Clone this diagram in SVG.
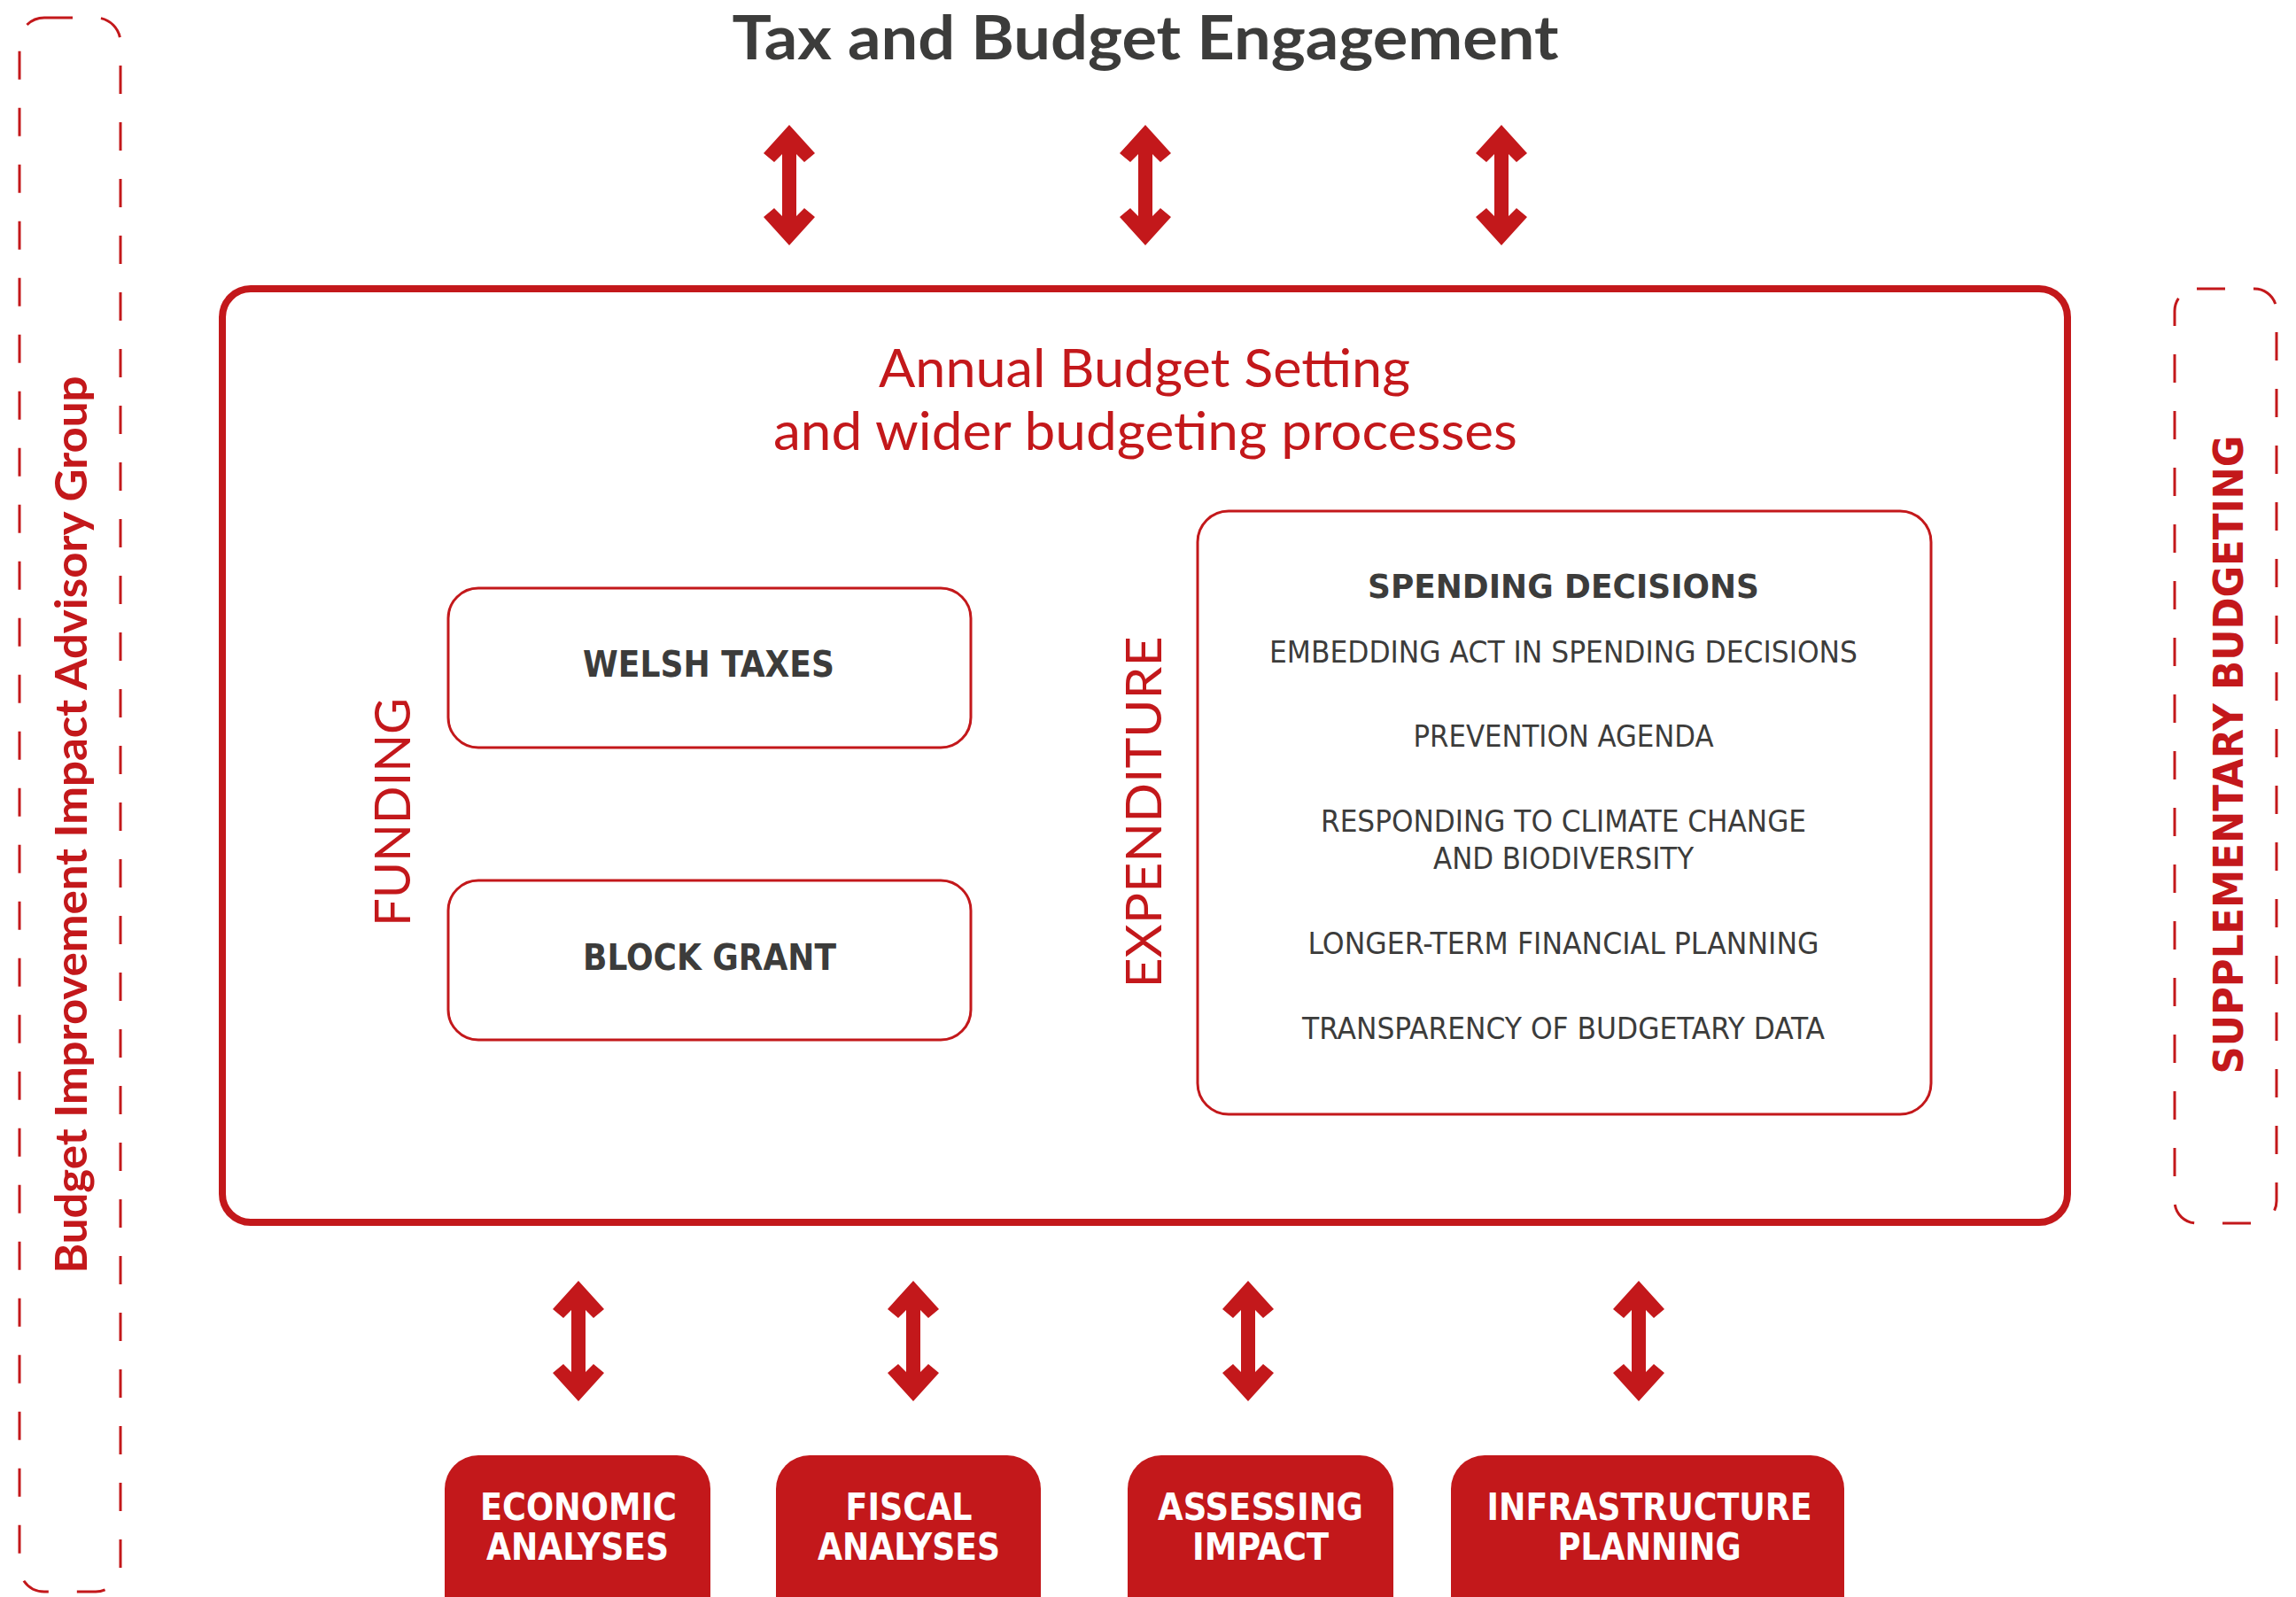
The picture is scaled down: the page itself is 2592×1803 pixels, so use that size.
<svg xmlns="http://www.w3.org/2000/svg" xmlns:xlink="http://www.w3.org/1999/xlink" width="2592" height="1803" viewBox="0 0 2592 1803">
<style>
.red{fill:#c3181b}
.dark{fill:#3c3c3b}
.geo{font-family:Lato,"Open Sans","Liberation Sans",sans-serif}
.cond{font-family:"Liberation Sans Narrow","DejaVu Sans Condensed","Liberation Sans",sans-serif;font-stretch:condensed}
.box{fill:#fff;stroke:#c3181b;stroke-width:3}
.dash{fill:none;stroke:#c3181b;stroke-width:3;stroke-dasharray:32 32}
.btn{fill:#c3181b}
.btxt{fill:#fff;font-size:42px;font-weight:bold;text-anchor:middle}
.item{font-size:33px;text-anchor:middle}
</style>
<defs>
<path id="dbl" d="M0,0 L29,32 L17,42 L8,33 L8,103 L17,94 L29,104 L0,136 L-29,104 L-17,94 L-8,103 L-8,33 L-17,42 L-29,32 Z" fill="#c3181b"/>
</defs>
<rect width="2592" height="1803" fill="#fff"/>

<g id="title">
<text x="1293" y="67" class="geo dark" font-size="68" font-weight="bold" text-anchor="middle" textLength="933" lengthAdjust="spacingAndGlyphs">Tax and Budget Engagement</text>
</g>

<g id="advisory-group">
<rect x="22" y="20" width="114" height="1777" rx="28" class="dash"/>
<text transform="translate(98,931) rotate(-90)" class="geo red" font-size="50" font-weight="bold" text-anchor="middle" textLength="1013" lengthAdjust="spacingAndGlyphs">Budget Improvement Impact Advisory Group</text>
</g>

<g id="supplementary-budgeting">
<rect x="2455" y="326" width="115" height="1055" rx="25" class="dash"/>
<text transform="translate(2532,852) rotate(-90)" class="cond red" font-size="46" font-weight="bold" text-anchor="middle" textLength="721" lengthAdjust="spacingAndGlyphs">SUPPLEMENTARY BUDGETING</text>
</g>

<g id="annual-budget">
<rect x="251" y="326" width="2083" height="1054" rx="32" fill="none" stroke="#c3181b" stroke-width="8"/>
<text x="1292" y="437" class="geo red" font-size="60" text-anchor="middle" textLength="600" lengthAdjust="spacingAndGlyphs">Annual Budget Setting</text>
<text x="1293" y="508" class="geo red" font-size="60" text-anchor="middle" textLength="840" lengthAdjust="spacingAndGlyphs">and wider budgeting processes</text>
</g>

<g id="funding-label">
<text transform="translate(463,917) rotate(-90)" class="geo red" font-size="57" font-weight="normal" text-anchor="middle" textLength="258" lengthAdjust="spacingAndGlyphs">FUNDING</text>
</g>

<g id="expenditure-label">
<text transform="translate(1311,917) rotate(-90)" class="geo red" font-size="57" font-weight="normal" text-anchor="middle" textLength="397" lengthAdjust="spacingAndGlyphs">EXPENDITURE</text>
</g>

<g id="welsh-taxes">
<rect x="506" y="664" width="590" height="180" rx="34" class="box"/>
<text x="800" y="764" class="cond dark" font-size="41" font-weight="bold" text-anchor="middle" textLength="284" lengthAdjust="spacingAndGlyphs">WELSH TAXES</text>
</g>

<g id="block-grant">
<rect x="506" y="994" width="590" height="180" rx="34" class="box"/>
<text x="801" y="1095" class="cond dark" font-size="41" font-weight="bold" text-anchor="middle" textLength="286" lengthAdjust="spacingAndGlyphs">BLOCK GRANT</text>
</g>

<g id="spending-decisions">
<rect x="1352" y="577" width="828" height="681" rx="35" class="box"/>
<text x="1765" y="675" class="cond dark" font-size="38" font-weight="bold" text-anchor="middle" textLength="442" lengthAdjust="spacingAndGlyphs">SPENDING DECISIONS</text>
<text x="1765" y="748" class="cond dark item" textLength="664" lengthAdjust="spacingAndGlyphs">EMBEDDING ACT IN SPENDING DECISIONS</text>
<text x="1765" y="843" class="cond dark item" textLength="339" lengthAdjust="spacingAndGlyphs">PREVENTION AGENDA</text>
<text x="1765" y="939" class="cond dark item" textLength="548" lengthAdjust="spacingAndGlyphs">RESPONDING TO CLIMATE CHANGE</text>
<text x="1765" y="981" class="cond dark item" textLength="294" lengthAdjust="spacingAndGlyphs">AND BIODIVERSITY</text>
<text x="1765" y="1077" class="cond dark item" textLength="577" lengthAdjust="spacingAndGlyphs">LONGER-TERM FINANCIAL PLANNING</text>
<text x="1765" y="1173" class="cond dark item" textLength="590" lengthAdjust="spacingAndGlyphs">TRANSPARENCY OF BUDGETARY DATA</text>
</g>

<g id="economic-analyses">
<rect x="502" y="1643" width="300" height="200" rx="38" class="btn"/>
<text x="653" y="1716" class="cond btxt" textLength="222" lengthAdjust="spacingAndGlyphs">ECONOMIC</text>
<text x="652" y="1761" class="cond btxt" textLength="206" lengthAdjust="spacingAndGlyphs">ANALYSES</text>
</g>

<g id="fiscal-analyses">
<rect x="876" y="1643" width="299" height="200" rx="38" class="btn"/>
<text x="1026" y="1716" class="cond btxt" textLength="143" lengthAdjust="spacingAndGlyphs">FISCAL</text>
<text x="1026" y="1761" class="cond btxt" textLength="206" lengthAdjust="spacingAndGlyphs">ANALYSES</text>
</g>

<g id="assessing-impact">
<rect x="1273" y="1643" width="300" height="200" rx="38" class="btn"/>
<text x="1423" y="1716" class="cond btxt" textLength="232" lengthAdjust="spacingAndGlyphs">ASSESSING</text>
<text x="1423" y="1761" class="cond btxt" textLength="154" lengthAdjust="spacingAndGlyphs">IMPACT</text>
</g>

<g id="infrastructure-planning">
<rect x="1638" y="1643" width="444" height="200" rx="38" class="btn"/>
<text x="1862" y="1716" class="cond btxt" textLength="367" lengthAdjust="spacingAndGlyphs">INFRASTRUCTURE</text>
<text x="1862" y="1761" class="cond btxt" textLength="207" lengthAdjust="spacingAndGlyphs">PLANNING</text>
</g>

<g id="connectors">
<use xlink:href="#dbl" href="#dbl" x="891" y="141"/>
<use xlink:href="#dbl" href="#dbl" x="1293" y="141"/>
<use xlink:href="#dbl" href="#dbl" x="1695" y="141"/>
<use xlink:href="#dbl" href="#dbl" x="653" y="1446"/>
<use xlink:href="#dbl" href="#dbl" x="1031" y="1446"/>
<use xlink:href="#dbl" href="#dbl" x="1409" y="1446"/>
<use xlink:href="#dbl" href="#dbl" x="1850" y="1446"/>
</g>
</svg>
